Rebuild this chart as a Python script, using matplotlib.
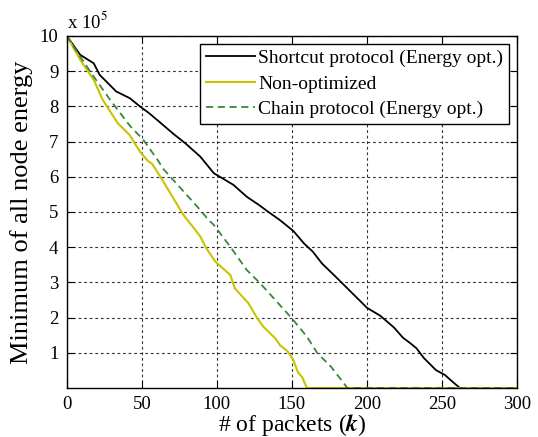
import matplotlib.pyplot as plt

# data (energy in units of 1e5)
shortcut_x = [0, 9, 18, 22, 33, 42, 49, 55, 60, 71, 79, 89, 98, 102, 111, 120, 128, 135,
              142, 151, 158, 164, 170, 178, 187, 196, 200, 209, 218, 224, 229, 233, 238,
              246, 252, 257, 262, 300]
shortcut_y = [10, 9.46, 9.22, 8.89, 8.42, 8.23, 7.99, 7.8, 7.62, 7.22, 6.95, 6.57, 6.1, 6.0,
              5.77, 5.43, 5.2, 4.98, 4.77, 4.46, 4.11, 3.87, 3.54, 3.21, 2.83, 2.45, 2.28,
              2.05, 1.72, 1.43, 1.27, 1.13, 0.85, 0.51, 0.37, 0.18, 0, 0]

nonopt_x = [0, 9, 18, 24, 29, 34, 42, 46, 49, 54, 57, 63, 71, 78, 84, 89, 93, 99, 109, 112,
            121, 127, 131, 139, 142, 147, 151, 154, 157, 160, 300]
nonopt_y = [10, 9.32, 8.75, 8.18, 7.85, 7.52, 7.18, 6.9, 6.7, 6.45, 6.36, 5.96, 5.39, 4.9,
            4.58, 4.3, 3.97, 3.59, 3.21, 2.83, 2.41, 1.98, 1.74, 1.41, 1.22, 1.05, 0.8, 0.45,
            0.3, 0, 0]

chain_x = [0, 9, 18, 29, 42, 51, 61, 64, 76, 87, 94, 98, 109, 120, 129, 140, 150, 160, 167,
           176, 182, 187, 300]
chain_y = [10, 9.41, 8.84, 8.18, 7.45, 7.05, 6.45, 6.24, 5.67, 5.15, 4.8, 4.63, 4.01, 3.35,
           2.97, 2.45, 1.98, 1.46, 0.99, 0.61, 0.28, 0, 0]

x_ticks = [0, 50, 100, 150, 200, 250, 300]
y_ticks = [1, 2, 3, 4, 5, 6, 7, 8, 9, 10]

plt.rcParams['font.family'] = ['Liberation Serif', 'DejaVu Serif']
plt.rcParams['mathtext.fontset'] = 'stix'

fig = plt.figure(figsize=(5.38, 4.37), dpi=100)
ax = fig.add_axes([0.124, 0.112, 0.837, 0.806])

ax.plot(shortcut_x, shortcut_y, color='black', lw=1.3, label='Shortcut protocol (Energy opt.)')
ax.plot(nonopt_x, nonopt_y, color='#c8c400', lw=1.5, label='Non-optimized')
ax.plot(chain_x, chain_y, color='#3a873a', lw=1.3, dashes=(4, 2.5),
        label='Chain protocol (Energy opt.)')

ax.set_xlim(0, 300)
ax.set_ylim(0, 10)
ax.set_xticks(x_ticks)
ax.set_yticks(y_ticks)
ax.tick_params(direction='in', top=True, right=True, length=5, labelsize=13.5, pad=6)
ax.grid(True, color='#333333', linestyle=(0, (2.5, 2.5)), lw=0.8)
for s in ax.spines.values():
    s.set_linewidth(1.0)

ax.set_xlabel('# of packets ($\\boldsymbol{k}$)', fontsize=17, labelpad=-1)
ax.set_ylabel('Minimum of all node energy', fontsize=19, labelpad=5)
ax.text(0.0, 1.01, 'x 10$^5$', transform=ax.transAxes, fontsize=13.5, ha='left', va='bottom')

leg = ax.legend(loc='upper right', fontsize=14, frameon=True, fancybox=False,
                edgecolor='black', borderpad=0.3, labelspacing=0.4, handlelength=2.5,
                handletextpad=0.2, borderaxespad=0.4)
leg.get_frame().set_linewidth(1.0)
leg.get_frame().set_alpha(1.0)

fig.savefig('out.png', dpi=100)
